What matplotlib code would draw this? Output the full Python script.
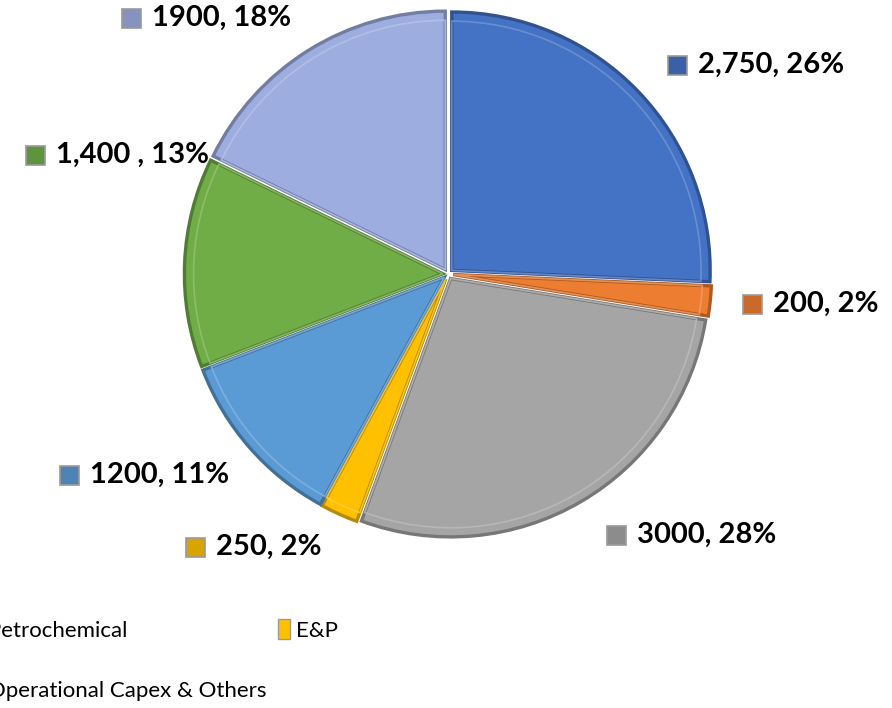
import numpy as np
import matplotlib.pyplot as plt
from matplotlib.patches import Rectangle
import matplotlib.colors as mcolors

plt.rcParams['font.family'] = ['Lato', 'DejaVu Sans']

# Investment split (values drive both the wedges and the labels)
values = [2750, 200, 3000, 250, 1200, 1400, 1900]
value_text = ["2,750", "200", "3000", "250", "1200", "1,400 ", "1900"]
colors = ["#4472C4", "#ED7D31", "#A5A5A5", "#FFC000", "#5B9BD5", "#70AD47", "#9DADE0"]
legend_names = {2: "Petrochemical", 6: "Operational Capex & Others", 3: "E&P"}

W, H = 892, 708
fig = plt.figure(figsize=(W / 100, H / 100), dpi=100)

# pie centre and radius in pixels (top-left origin)
cx, cy, r = 448, 274, 261
half = 1.1 * r
ax = fig.add_axes([(cx - half) / W, (H - cy - half) / H, 2 * half / W, 2 * half / H])


def darker(c, f=0.72):
    rgb = np.array(mcolors.to_rgb(c))
    return tuple(rgb * f)


def lighter(c, f=0.35):
    rgb = np.array(mcolors.to_rgb(c))
    return tuple(rgb + (1 - rgb) * f)


explode = [0.02] * len(values)

# soft grey rim behind each slice
ax.pie(values, radius=1.0, startangle=90, counterclock=False, explode=explode,
       colors=['#d0d0d0'] * len(values),
       wedgeprops=dict(edgecolor='white', linewidth=2.5))
wedges, _ = ax.pie(values, radius=0.99, startangle=90, counterclock=False,
                   explode=explode, colors=colors,
                   wedgeprops=dict(linewidth=0))
for w, c in zip(wedges, colors):
    w.set_edgecolor(darker(c))
    w.set_linewidth(2.4)
# inner highlight to fake the bevel
hl, _ = ax.pie(values, radius=0.955, startangle=90, counterclock=False,
               explode=explode, colors=colors,
               wedgeprops=dict(linewidth=0))
for w, c in zip(hl, colors):
    w.set_facecolor('none')
    w.set_edgecolor(lighter(c, 0.25))
    w.set_linewidth(1.2)
    w.set_alpha(0.8)

# pie() resets the limits, so fix them afterwards
ax.set_xlim(-1.1, 1.1)
ax.set_ylim(-1.1, 1.1)
ax.axis('off')

# data labels: key square centre in pixels
label_px = [(677, 65), (752, 304), (616, 535), (195, 547), (69, 475), (35, 155), (131, 18)]
total = sum(values)
for (px, py), v, vt, c in zip(label_px, values, value_text, colors):
    pct = round(v / total * 100)
    k = 19
    fig.add_artist(Rectangle(((px - k / 2) / W, (H - py - k / 2) / H), k / W, k / H,
                             transform=fig.transFigure, facecolor=darker(c, 0.85),
                             edgecolor='#9a9a9a', linewidth=1.2))
    fig.text((px + 21) / W, (H - py) / H, f"{vt}, {pct}%", fontsize=21,
             fontweight='bold', ha='left', va='center', color='black')

# bottom legend, partly running off the left edge
order = [2, 6, 3]
leg = fig.legend([wedges[i] for i in order], [legend_names[i] for i in order],
                 loc='upper left', bbox_to_anchor=(-31 / W, 1 - 619 / H),
                 ncol=2, frameon=False, fontsize=16,
                 handlelength=0.55, handleheight=1.0, handletextpad=0.3,
                 columnspacing=0.5, labelspacing=1.75, borderpad=0, borderaxespad=0)
for h in leg.legend_handles:
    h.set_edgecolor('#9a9a9a')
    h.set_linewidth(1)

fig.savefig('out.png', dpi=100)
